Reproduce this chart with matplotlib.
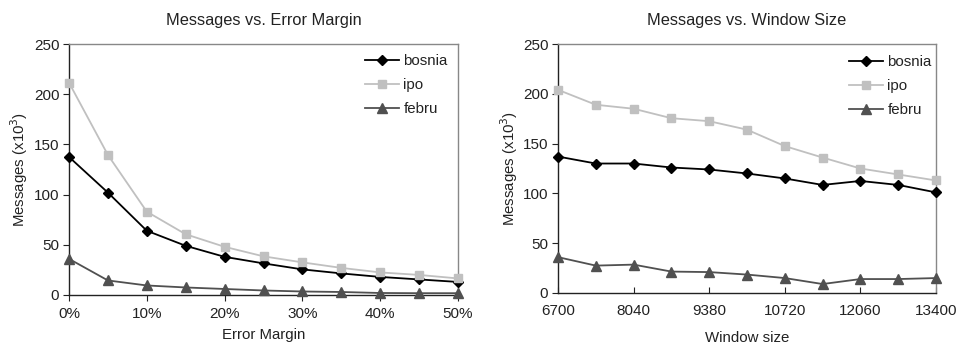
import matplotlib
matplotlib.use("Agg")
import matplotlib.pyplot as plt
from matplotlib.ticker import FixedLocator

plt.rcParams['font.family'] = ['Liberation Sans', 'DejaVu Sans']

# Left chart: Messages vs. Error Margin
error_margin = [0, 5, 10, 15, 20, 25, 30, 35, 40, 45, 50]
err_ticks = [0, 10, 20, 30, 40, 50]
err_ticklabels = ['0%', '10%', '20%', '30%', '40%', '50%']
bosnia_err = [137.5, 102, 64, 49, 38, 31.5, 25.5, 21.5, 18, 15.5, 13]
ipo_err = [211.5, 139.5, 83, 60.5, 48, 38.5, 32.5, 27, 22.5, 20, 16.5]
febru_err = [36, 14.5, 9.5, 7.5, 6, 4.5, 3.5, 3, 2, 1.8, 1.8]

# Right chart: Messages vs. Window Size
window_size = [6700, 7370, 8040, 8710, 9380, 10050, 10720, 11390, 12060, 12730, 13400]
win_ticks = [6700, 8040, 9380, 10720, 12060, 13400]
win_ticklabels = ['6700', '8040', '9380', '10720', '12060', '13400']
bosnia_win = [137, 130, 130, 126, 124, 120, 115, 108.5, 112.5, 108.5, 101]
ipo_win = [204, 189, 185, 175.5, 172.5, 164, 147.5, 136, 125, 119, 113]
febru_win = [36, 27.5, 28.5, 21.5, 21, 18.5, 15, 9, 14, 14, 15]

y_ticks = [0, 50, 100, 150, 200, 250]
series_names = ['bosnia', 'ipo', 'febru']

colors = ['#000000', '#c0c0c0', '#505050']
markers = ['D', 's', '^']
msizes = [5.5, 6, 6.5]

W, H = 964, 345
fig = plt.figure(figsize=(W/100, H/100), dpi=100)
ax1 = fig.add_axes([69/W, 1-295/H, (458-69)/W, (295-44)/H])
ax2 = fig.add_axes([558/W, 1-293/H, (936-558)/W, (293-44)/H])

def style(ax, x, series, xlim, xticks, xticklabels, title, xlabel, tickdir,
          xpad, ylab_x, xlab_y, leg_x, leg_top):
    for name, ys, c, m, ms in zip(series_names, series, colors, markers, msizes):
        ax.plot(x, ys, color=c, marker=m, markersize=ms, linewidth=1.3,
                label=name, clip_on=False, zorder=3)
    ax.set_xlim(*xlim)
    ax.set_ylim(0, 250)
    ax.xaxis.set_major_locator(FixedLocator(xticks))
    ax.set_xticklabels(xticklabels)
    ax.set_yticks(y_ticks)
    ax.tick_params(axis='x', direction=tickdir, length=4, width=0.8,
                   labelsize=11, colors='#222222', pad=xpad)
    ax.tick_params(axis='y', direction='out', length=4, width=0.8,
                   labelsize=11, colors='#222222', pad=3)
    for s in ['left', 'bottom']:
        ax.spines[s].set_color('#222222')
        ax.spines[s].set_linewidth(1.0)
    for s in ['top', 'right']:
        ax.spines[s].set_color('#888888')
        ax.spines[s].set_linewidth(1.0)
    ax.set_title(title, fontsize=11.8, color='#222222', pad=14)
    ax.set_xlabel(xlabel, fontsize=10.8, color='#222222')
    ax.xaxis.label.set_va('center')
    ax.xaxis.set_label_coords(0.5, xlab_y)
    ax.set_ylabel('Messages (x10$^{3}$)', fontsize=10.8, color='#222222')
    ax.yaxis.label.set_va('center')
    ax.yaxis.set_label_coords(ylab_x, 0.5)
    leg = ax.legend(loc='upper left', frameon=False, fontsize=10.8,
                    handlelength=2.25, handletextpad=0.3, labelspacing=0.68,
                    borderpad=0, borderaxespad=0,
                    bbox_to_anchor=(leg_x/W, 1-leg_top/H),
                    bbox_transform=fig.transFigure)
    for t in leg.get_texts():
        t.set_color('#222222')

style(ax1, error_margin, [bosnia_err, ipo_err, febru_err], (0, 50), err_ticks,
      err_ticklabels, 'Messages vs. Error Margin', 'Error Margin', 'out',
      5, (19-69)/389, (295-335)/251, 365, 54)
style(ax2, window_size, [bosnia_win, ipo_win, febru_win], (6700, 13400), win_ticks,
      win_ticklabels, 'Messages vs. Window Size', 'Window size', 'in',
      8, (509-558)/378, (293-338)/249, 849, 55)

fig.savefig('out.png', dpi=100)
